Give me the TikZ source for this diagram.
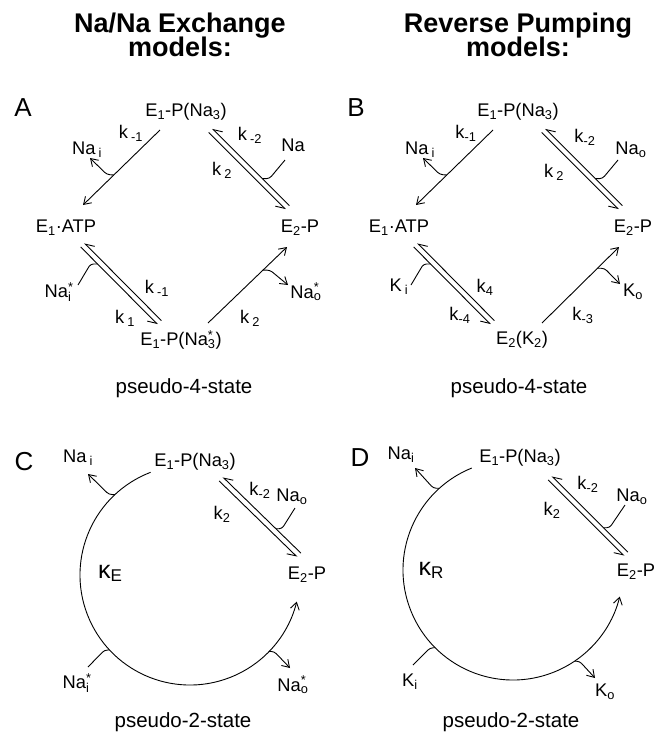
\documentclass[tikz,border=0pt]{standalone}
\usepackage{fontspec}
\setmainfont{Liberation Sans}
\usetikzlibrary{arrows.meta,calc}
\newcommand{\sbs}[1]{\textsubscript{#1}}
\newcommand{\sts}[2]{\rlap{\textsuperscript{#1}}\textsubscript{#2}}
\newcommand{\kap}[1]{{\fontsize{25}{26}\selectfont κ}\raisebox{-0.3ex}{\fontsize{17}{20}\selectfont #1}}
\begin{document}
\begin{tikzpicture}[x=1pt,y=1pt,
  lbl/.style={font=\fontsize{18.3}{20}\selectfont, inner sep=0pt},
  capt/.style={font=\fontsize{20.5}{24}\selectfont, inner sep=0pt},
  ttl/.style={font=\fontsize{27}{24}\selectfont\bfseries, inner sep=0pt, anchor=base},
  pl/.style={font=\fontsize{26}{28}\selectfont, inner sep=0pt},
  ln/.style={line width=0.9pt},
  arr/.style={ln, -{Straight Barb[length=7pt,width=9pt]}},
  hpE/.style={ln, -{Straight Barb[harpoon,swap,length=8pt,width=10pt]}},
  hpS/.style={ln, {Straight Barb[harpoon,swap,length=8pt,width=10pt]}-},
  br/.style={ln, rounded corners=3pt},
  bra/.style={arr, rounded corners=3pt}]
\fill[white] (0,0) rectangle (660,-734);
\useasboundingbox (0,0) rectangle (660,-734);

% Titles
\node[ttl] (t1a) at (180,-32) {Na/Na Exchange};
\node[ttl] (t1b) at (180,-56) {models:};
\node[ttl] (t2a) at (518,-32) {Reverse Pumping};
\node[ttl] (t2b) at (518,-56) {models:};

% ================= Panel A =================
\node[pl] (labA) at (23,-108) {A};
\node[lbl] (A1) at (186,-112) {E\sbs{1}-P(Na\sbs{3})};
\node[lbl] (A2) at (66,-228) {E\sbs{1}·ATP};
\node[lbl] (A3) at (300,-228) {E\sbs{2}-P};
\node[lbl] (A4) at (181,-340) {E\sbs{1}-P(Na\sts{*}{3})};
% single top-left
\coordinate (a1) at (160,-130); \coordinate (a2) at (83,-205);
\draw[arr] (a1) -- (a2);
\coordinate (aNi) at (90,-158);
\draw[bra] ($(a1)!0.6!(a2)$) -- ++(-7,0.5) -- (aNi);
\node[lbl] (A_nai) at (87,-150) {Na\,\sbs{i}};
\node[lbl] (A_km1) at (131,-133) {k\,\sbs{-1}};
% pair top-right
\coordinate (p1s) at (210.5,-130.5); \coordinate (p1e) at (287.5,-207.5);
\draw[hpS] ([shift={(1.9,1.9)}]p1s) -- ([shift={(1.9,1.9)}]p1e);
\draw[hpE] ([shift={(-1.9,-1.9)}]p1s) -- ([shift={(-1.9,-1.9)}]p1e);
\coordinate (aNa) at (285,-160);
\draw[br] ($(p1s)!0.65!(p1e)+(1.9,1.9)$) -- ++(7,0) -- (aNa);
\node[lbl] (A_km2) at (250,-135) {k\,\sbs{-2}};
\node[lbl] (A_k2) at (222,-170) {k\,\sbs{2}};
\node[lbl] (A_na) at (293,-145) {Na};
% pair bottom-left
\coordinate (p2s) at (82.5,-245); \coordinate (p2e) at (159.5,-322.5);
\draw[hpS] ([shift={(1.9,1.9)}]p2s) -- ([shift={(1.9,1.9)}]p2e);
\draw[hpE] ([shift={(-1.9,-1.9)}]p2s) -- ([shift={(-1.9,-1.9)}]p2e);
\coordinate (aNis) at (78,-285);
\draw[br] ($(p2s)!0.22!(p2e)+(-1.9,-1.9)$) -- ++(-7,0) -- (aNis);
\node[lbl] (A_km1b) at (157,-288) {k\,\sbs{-1}};
\node[lbl] (A_k1) at (125,-318) {k\,\sbs{1}};
\node[lbl] (A_nais) at (58,-292) {Na\sts{*}{i}};
% single bottom-right
\coordinate (a3) at (208,-323); \coordinate (a4) at (287,-247);
\draw[arr] (a3) -- (a4);
\coordinate (aNos) at (288,-285);
\draw[bra] ($(a3)!0.696!(a4)$) -- ++(7,0) -- (aNos);
\node[lbl] (A_k2b) at (250,-318) {k\,\sbs{2}};
\node[lbl] (A_naos) at (306,-292) {Na\sts{*}{o}};
\node[capt] (capA) at (184,-388) {pseudo-4-state};

% ================= Panel B =================
\node[pl] (labB) at (356,-108) {B};
\node[lbl] (B1) at (518,-112) {E\sbs{1}-P(Na\sbs{3})};
\node[lbl] (B2) at (399,-228) {E\sbs{1}·ATP};
\node[lbl] (B3) at (633,-228) {E\sbs{2}-P};
\node[lbl] (B4) at (522,-340) {E\sbs{2}(K\sbs{2})};
\coordinate (b1) at (493,-130); \coordinate (b2) at (416,-205);
\draw[arr] (b1) -- (b2);
\coordinate (bNi) at (423,-158);
\draw[bra] ($(b1)!0.6!(b2)$) -- ++(-7,0.5) -- (bNi);
\node[lbl] (B_nai) at (420,-150) {Na\,\sbs{i}};
\node[lbl] (B_km1) at (466,-133) {k\sbs{-1}};
\coordinate (q1s) at (543.5,-130.5); \coordinate (q1e) at (620.5,-207.5);
\draw[hpS] ([shift={(1.9,1.9)}]q1s) -- ([shift={(1.9,1.9)}]q1e);
\draw[hpE] ([shift={(-1.9,-1.9)}]q1s) -- ([shift={(-1.9,-1.9)}]q1e);
\coordinate (bNa) at (618,-160);
\draw[br] ($(q1s)!0.65!(q1e)+(1.9,1.9)$) -- ++(7,0) -- (bNa);
\node[lbl] (B_km2) at (585,-137) {k\sbs{-2}};
\node[lbl] (B_k2) at (554,-172) {k\,\sbs{2}};
\node[lbl] (B_nao) at (631,-150) {Na\sbs{o}};
\coordinate (q2s) at (415.5,-245); \coordinate (q2e) at (492.5,-322.5);
\draw[hpS] ([shift={(1.9,1.9)}]q2s) -- ([shift={(1.9,1.9)}]q2e);
\draw[hpE] ([shift={(-1.9,-1.9)}]q2s) -- ([shift={(-1.9,-1.9)}]q2e);
\coordinate (bKi) at (411,-285);
\draw[br] ($(q2s)!0.22!(q2e)+(-1.9,-1.9)$) -- ++(-7,0) -- (bKi);
\node[lbl] (B_k4) at (485,-287) {k\sbs{4}};
\node[lbl] (B_km4) at (460,-315) {k\sbs{-4}};
\node[lbl] (B_ki) at (399,-287) {K\,\sbs{i}};
\coordinate (b3) at (542,-323); \coordinate (b4) at (619,-247);
\draw[arr] (b3) -- (b4);
\coordinate (bKo) at (620,-284);
\draw[bra] ($(b3)!0.72!(b4)$) -- ++(7,0) -- (bKo);
\node[lbl] (B_km3) at (583,-315) {k\sbs{-3}};
\node[lbl] (B_ko) at (633,-292) {K\sbs{o}};
\node[capt] (capB) at (519,-388) {pseudo-4-state};

% ================= Panel C =================
\node[pl] (labC) at (24,-462) {C};
\node[lbl] (C1) at (195,-462) {E\sbs{1}-P(Na\sbs{3})};
\node[lbl] (C3) at (307,-575) {E\sbs{2}-P};
\node[lbl] (C_nai) at (78,-458) {Na\,\sbs{i}};
\coordinate (cC) at (190,-575);
\draw[arr] ($(cC)+(111:110)$) arc[start angle=111, end angle=346, radius=110];
\coordinate (cNi) at (88,-474);
\draw[bra] ($(cC)+(133:110)$) -- ++(-6,0) -- (cNi);
\coordinate (cNis) at (88,-667);
\draw[br] ($(cC)+(223:110)$) -- ++(-5,0) -- (cNis);
\coordinate (cNos) at (290,-668);
\draw[bra] ($(cC)+(316:110)$) -- ++(5,0) -- (cNos);
\node[lbl] (C_kap) at (110,-573) {\kap{E}};
\coordinate (r1s) at (221,-479); \coordinate (r1e) at (299,-555);
\draw[hpS] ([shift={(1.9,1.9)}]r1s) -- ([shift={(1.9,1.9)}]r1e);
\draw[hpE] ([shift={(-1.9,-1.9)}]r1s) -- ([shift={(-1.9,-1.9)}]r1e);
\coordinate (cNa) at (295,-508);
\draw[br] ($(r1s)!0.68!(r1e)+(1.9,1.9)$) -- ++(6,0) -- (cNa);
\node[lbl] (C_km2) at (260,-490) {k\sbs{-2}};
\node[lbl] (C_k2) at (222,-514) {k\sbs{2}};
\node[lbl] (C_nao) at (292,-497) {Na\sbs{o}};
\node[lbl] (C_nais) at (76,-683) {Na\sts{*}{i}};
\node[lbl] (C_naos) at (293,-685) {Na\sts{*}{o}};
\node[capt] (capC) at (183,-722) {pseudo-2-state};

% ================= Panel D =================
\node[pl] (labD) at (360,-458) {D};
\node[lbl] (D1) at (520,-458) {E\sbs{1}-P(Na\sbs{3})};
\node[lbl] (D3) at (636,-572) {E\sbs{2}-P};
\node[lbl] (D_nai) at (401,-455) {Na\sbs{i}};
\coordinate (cD) at (513,-570);
\draw[arr] ($(cD)+(112:110)$) arc[start angle=112, end angle=346, radius=110];
\coordinate (dNi) at (415,-468);
\draw[bra] ($(cD)+(132:110)$) -- ++(-6,0) -- (dNi);
\coordinate (dKi) at (413,-665);
\draw[br] ($(cD)+(225:110)$) -- ++(-5,0) -- (dKi);
\coordinate (dKo) at (595,-678);
\draw[bra] ($(cD)+(304:110)$) -- ++(5,0) -- (dKo);
\node[lbl] (D_kap) at (431,-570) {\kap{R}};
\coordinate (s1s) at (550,-478); \coordinate (s1e) at (626,-554);
\draw[hpS] ([shift={(1.9,1.9)}]s1s) -- ([shift={(1.9,1.9)}]s1e);
\draw[hpE] ([shift={(-1.9,-1.9)}]s1s) -- ([shift={(-1.9,-1.9)}]s1e);
\coordinate (dNa) at (625,-505);
\draw[br] ($(s1s)!0.68!(s1e)+(1.9,1.9)$) -- ++(6,0) -- (dNa);
\node[lbl] (D_km2) at (588,-484) {k\sbs{-2}};
\node[lbl] (D_k2) at (552,-510) {k\sbs{2}};
\node[lbl] (D_nao) at (632,-497) {Na\sbs{o}};
\node[lbl] (D_ki) at (410,-682) {K\sbs{i}};
\node[lbl] (D_ko) at (605,-692) {K\sbs{o}};
\node[capt] (capD) at (511,-722) {pseudo-2-state};
\end{tikzpicture}
\end{document}
